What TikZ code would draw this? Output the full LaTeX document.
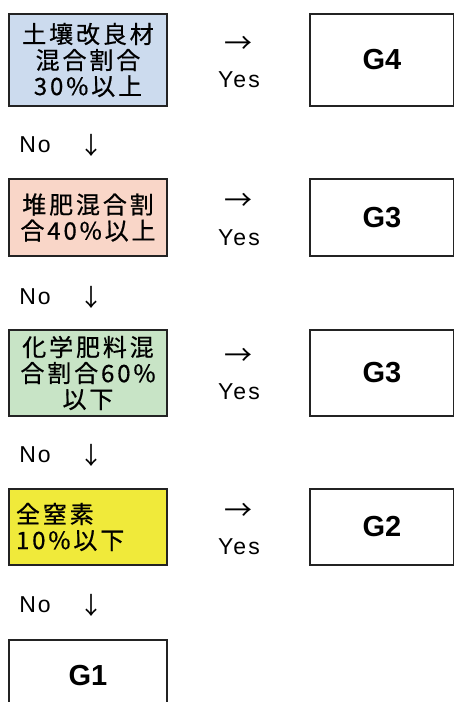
\documentclass[tikz,border=0pt]{standalone}
\usepackage{fontspec}
\setmainfont{Liberation Sans}
\newfontfamily\jpfont[LetterSpace=12,FakeBold=0.6]{Noto Sans CJK JP}
\newfontfamily\arrfont{Noto Sans CJK JP}
\newfontfamily\latfont[LetterSpace=9]{Liberation Sans}
\definecolor{cblue}{RGB}{204,219,238}
\definecolor{cpeach}{RGB}{249,214,200}
\definecolor{cgreen}{RGB}{200,228,198}
\definecolor{cyellow}{RGB}{240,234,58}
\definecolor{edge}{RGB}{35,35,35}
\tikzset{
  cond/.style={draw=edge, line width=2pt, minimum width=158pt, minimum height=#1,
    inner sep=0pt, align=center, font=\jpfont\fontsize{24}{26}\selectfont},
  result/.style={draw=edge, line width=2pt, minimum width=144pt, minimum height=#1,
    inner sep=0pt, font=\bfseries\fontsize{29}{32}\selectfont},
  lbl/.style={inner sep=0pt, font=\latfont\fontsize{23}{25}\selectfont},
  arr/.style={inner sep=0pt, font=\arrfont\fontsize{28}{30}\selectfont},
  darr/.style={inner sep=0pt, font=\arrfont\fontsize{24}{26}\selectfont},
}
\begin{document}
\begin{tikzpicture}[x=1pt,y=-1pt]
\useasboundingbox (0,0) rectangle (454,702);
\fill[white] (0,0) rectangle (454,702);
% row 1
\node[cond=92pt, fill=cblue] (b1) at (88,60) {土壤改良材\\混合割合\\30\%以上};
\node[result=92pt, fill=white] (g4) at (382,60) {G4};
\node[arr] (a1) at (238,45) {→};
\node[lbl] (y1) at (239,80) {Yes};
\node[lbl] (n1) at (35,145) {No};
\node[darr] (d1) at (91,145) {↓};
% row 2
\node[cond=77pt, fill=cpeach] (b2) at (88,217.5) {堆肥混合割\\合40\%以上};
\node[result=77pt, fill=white] (g3a) at (382,217.5) {G3};
\node[arr] (a2) at (238,202) {→};
\node[lbl] (y2) at (239,238) {Yes};
\node[lbl] (n2) at (35,297) {No};
\node[darr] (d2) at (91,297) {↓};
% row 3
\node[cond=86pt, fill=cgreen] (b3) at (88,373) {化学肥料混\\合割合60\%\\以下};
\node[result=86pt, fill=white] (g3b) at (382,373) {G3};
\node[arr] (a3) at (238,357) {→};
\node[lbl] (y3) at (239,392) {Yes};
\node[lbl] (n3) at (35,455) {No};
\node[darr] (d3) at (91,455) {↓};
% row 4
\node[cond=76pt, fill=cyellow, text width=144pt, inner xsep=7pt, align=left] (b4) at (88,527) {全窒素\\10\%以下};
\node[result=76pt, fill=white] (g2) at (382,527) {G2};
\node[arr] (a4) at (238,512) {→};
\node[lbl] (y4) at (239,547) {Yes};
\node[lbl] (n4) at (35,605) {No};
\node[darr] (d4) at (91,605) {↓};
% G1
\node[draw=edge, line width=2pt, minimum width=158pt, minimum height=72pt, inner sep=0pt,
  fill=white, anchor=north] (g1) at (88,639) {};
\node[font=\bfseries\fontsize{29}{32}\selectfont, inner sep=0pt] (g1t) at (88,676) {G1};
\end{tikzpicture}
\end{document}
